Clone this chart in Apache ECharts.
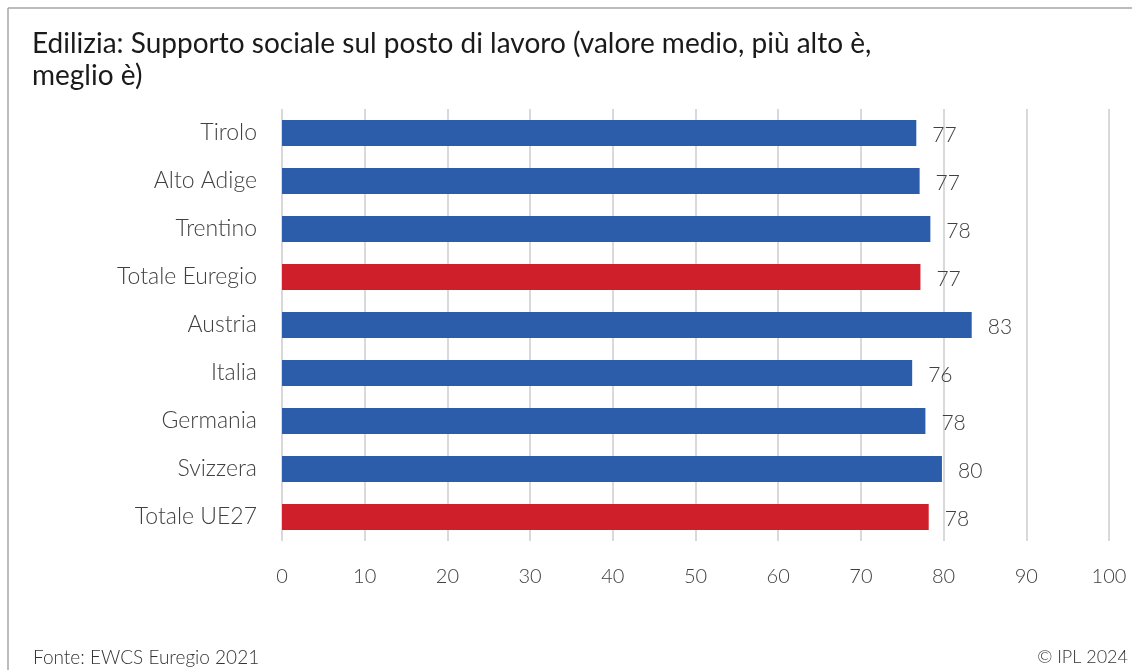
<!DOCTYPE html>
<html>
<head>
<meta charset="utf-8">
<script src="https://cdn.jsdelivr.net/npm/echarts@6/dist/echarts.min.js"></script>
<style>
  html, body { margin: 0; padding: 0; background: #ffffff; }
  #chart { width: 1132px; height: 670px; }
</style>
</head>
<body>
<div id="chart"></div>
<script>
// Social support at the workplace, construction sector (mean score, higher is better)
const categories = ['Tirolo', 'Alto Adige', 'Trentino', 'Totale Euregio', 'Austria', 'Italia', 'Germania', 'Svizzera', 'Totale UE27'];
const values = [76.7, 77.1, 78.4, 77.2, 83.4, 76.2, 77.8, 79.8, 78.2];
const totals = ['Totale Euregio', 'Totale UE27'];
const xTicks = [0, 10, 20, 30, 40, 50, 60, 70, 80, 90, 100];

const BLUE = '#2b5dab';
const RED = '#cf1f2a';
const FONT = 'Lato';

const chart = echarts.init(document.getElementById('chart'), null, { renderer: 'canvas' });

chart.setOption({
  backgroundColor: '#ffffff',
  animation: false,
  title: [
    {
      text: 'Edilizia: Supporto sociale sul posto di lavoro (valore medio, più alto è,\nmeglio è)',
      left: 27,
      top: 23,
      textStyle: { fontFamily: FONT, fontSize: 28, fontWeight: 400, color: '#1a1a1a', lineHeight: 32 }
    },
    {
      text: 'Fonte: EWCS Euregio 2021',
      left: 28,
      top: 643,
      textStyle: { fontFamily: FONT, fontSize: 19, fontWeight: 300, color: '#333333' }
    },
    {
      text: '© IPL 2024',
      right: -1,
      top: 643,
      textStyle: { fontFamily: FONT, fontSize: 18, fontWeight: 300, color: '#333333' }
    }
  ],
  graphic: [
    { type: 'line', shape: { x1: 8, y1: 8, x2: 1132, y2: 8 }, style: { stroke: '#a6a6a6', lineWidth: 1.5 } },
    { type: 'line', shape: { x1: 8, y1: 8, x2: 8, y2: 670 }, style: { stroke: '#a6a6a6', lineWidth: 1.5 } }
  ],
  grid: { left: 282, right: 23, top: 109, height: 432 },
  xAxis: {
    type: 'value',
    min: 0,
    max: 100,
    interval: 10,
    axisLine: { show: false },
    axisTick: { show: false },
    splitLine: { show: true, lineStyle: { color: '#d9d9d9', width: 2 } },
    axisLabel: {
      margin: 26,
      fontFamily: FONT, fontSize: 20, fontWeight: 300, color: '#404040',
      formatter: v => (xTicks.includes(v) ? String(v) : '')
    }
  },
  yAxis: {
    type: 'category',
    inverse: true,
    data: categories,
    axisLine: { show: false },
    axisTick: { show: false },
    axisLabel: { margin: 25, fontFamily: FONT, fontSize: 23, fontWeight: 300, color: '#404040' }
  },
  series: [{
    type: 'bar',
    barWidth: 26,
    data: values.map((v, i) => ({
      value: v,
      itemStyle: { color: totals.includes(categories[i]) ? RED : BLUE }
    })),
    label: {
      show: true,
      position: 'right',
      distance: 16,
      offset: [0, 2],
      fontFamily: FONT, fontSize: 21, fontWeight: 300, color: '#404040',
      formatter: p => String(Math.round(p.value))
    }
  }]
});
</script>
</body>
</html>
